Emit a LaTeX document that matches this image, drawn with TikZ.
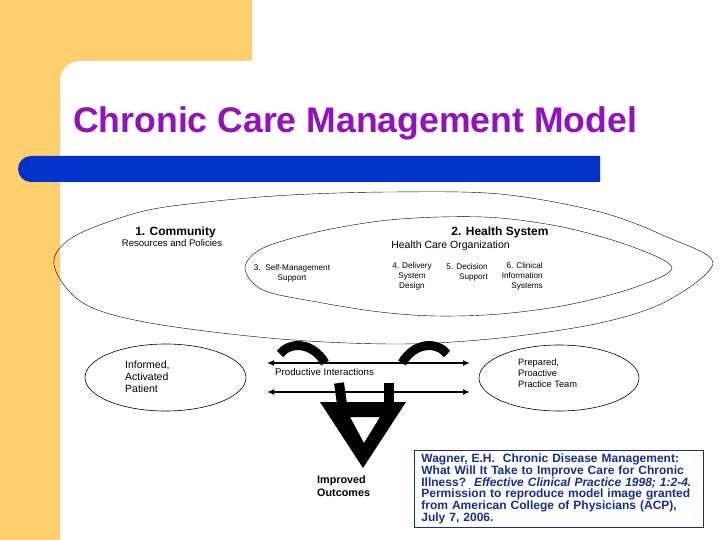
\documentclass[tikz,border=0pt]{standalone}
\usepackage{fontspec}
\setmainfont{Liberation Sans}
\usetikzlibrary{shapes.geometric,arrows.meta}

\definecolor{slideyellow}{RGB}{255,207,110}
\definecolor{slideblue}{RGB}{0,51,204}
\definecolor{titlepurple}{RGB}{146,16,192}
\definecolor{citeblue}{RGB}{22,46,150}

\tikzset{
	lbl/.style={inner sep=0, anchor=base, font=\fontsize{#1}{9.6}\selectfont},
	lbl/.default=8.2,
	boldlbl/.style={inner sep=0, anchor=base, font=\bfseries\fontsize{#1}{#1}\selectfont},
	ring/.style={draw, line width=0.7pt, smooth cycle, tension=0.55},
	oval/.style={ellipse, draw, line width=0.6pt, inner sep=0},
	link/.style={line width=1.8pt, {Latex[length=7pt,width=6pt]}-{Latex[length=7pt,width=6pt]}},
	thickarc/.style={line width=9pt},
}

\begin{document}
\begin{tikzpicture}[x=1pt, y=-1pt]
	\useasboundingbox (0,0) rectangle (720,540);
	\clip (0,0) rectangle (720,540);
	\fill[slideyellow] (0,0) rectangle (252,540);
	\fill[white, rounded corners=20pt] (60,61) rectangle (780,600);
	\fill[slideblue] (600,156) -- (31,156) arc[start angle=270, end angle=90, radius=13] -- (600,182) -- cycle;
	\node[anchor=base west, inner sep=0, text=titlepurple, font=\bfseries\fontsize{35.6}{40}\selectfont] (title) at (73,133) {Chronic Care Management Model};

	\draw plot[ring] coordinates {(54,265) (73,237) (140,212) (207,202) (290,195) (390,192) (500,194) (600,212) (667,237) (713,263) (667,301) (600,323) (500,338) (400,344) (280,339) (150,323) (83,303)};
	\draw plot[ring] coordinates {(245,268) (263,248) (317,232) (380,221) (440,217) (500,218) (567,228) (633,247) (672,268) (633,288) (567,305) (500,314) (437,316) (380,312) (317,302) (263,290)};

	\node[boldlbl=12] (community) at (175.5,236) {1. Community};
	\node[lbl=9.6] (resources) at (172,247) {Resources and Policies};
	\node[boldlbl=12] (healthsys) at (500,236) {2. Health System};
	\node[lbl=10.5] (organization) at (450.5,248) {Health Care Organization};
	\node[lbl, align=center] (selfmgmt) at (292,280) {3.\ \ Self-Management\\Support};
	\node[lbl, align=center] (delivery) at (412,288) {4. Delivery\\System\\Design};
	\node[lbl, align=right, anchor=base east] (decision) at (488,279) {5. Decision\\Support};
	\node[lbl, align=right, anchor=base east] (clinical) at (543,288) {6. Clinical\\Information\\Systems};

	\node[oval, minimum width=161pt, minimum height=67pt] (patient) at (165.5,377.5) {};
	\node[lbl=10.5, anchor=base west, align=left, font=\fontsize{10.5}{12}\selectfont] (patientlbl) at (125,392) {Informed,\\Activated\\Patient};
	\node[oval, minimum width=160pt, minimum height=66pt] (team) at (559,378) {};
	\node[lbl=9.3, anchor=base west, align=left, font=\fontsize{9.3}{11}\selectfont] (teamlbl) at (518,387) {Prepared,\\Proactive\\Practice Team};

	\coordinate (upL) at (267,363);
	\coordinate (upR) at (470,363);
	\coordinate (loL) at (267,392);
	\coordinate (loR) at (470,392);
	\draw[link] (upL) -- (upR);
	\draw[link] (loL) -- (loR);
	\node[lbl=9.7, anchor=base west] (interactions) at (275,375) {Productive Interactions};

	\draw[thickarc] (280,354) .. controls (289,342) and (312,341) .. (325,363);
	\draw[thickarc] (447,354) .. controls (438,342) and (415,341) .. (402,363);
	\draw[line width=10pt] (339,383) -- (342,404);
	\draw[line width=10pt] (389,383) -- (389,404);
	\fill[even odd rule] (320,402) -- (406,402) -- (363,468) -- cycle (350,417) -- (380,417) -- (364,443) -- cycle;
	\node[boldlbl=10.8, align=left, anchor=base west, font=\bfseries\fontsize{10.8}{13}\selectfont] (outcomes) at (317,496) {Improved\\Outcomes};

	\node[draw=citeblue, line width=0.8pt, text=citeblue, anchor=north west, text width=275pt, inner xsep=7pt, inner ysep=3pt, minimum height=73pt, align=left, font=\bfseries\fontsize{12}{10.7}\selectfont] (citation) at (414,450) {Wagner, E.H.\ \ Chronic Disease Management:\\What Will It Take to Improve Care for Chronic\\Illness?\ \ \textit{Effective Clinical Practice 1998; 1:2-4.}\\Permission to reproduce model image granted\\from American College of Physicians (ACP),\\July 7, 2006.};
\end{tikzpicture}
\end{document}
